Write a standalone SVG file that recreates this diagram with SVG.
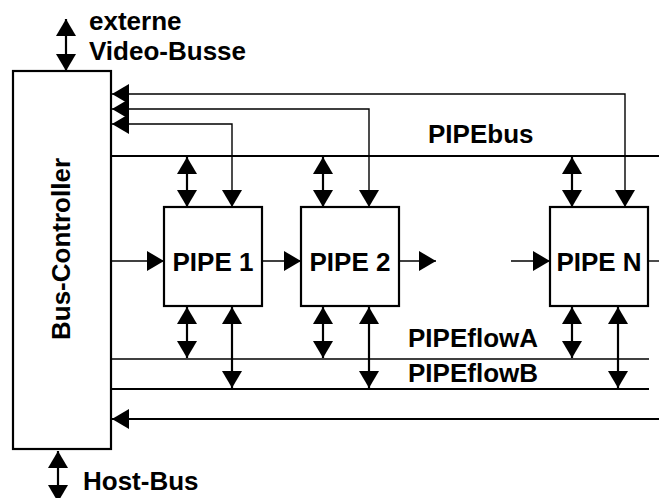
<svg xmlns="http://www.w3.org/2000/svg" width="659" height="498" viewBox="0 0 659 498">
<style>
text{font-family:"Liberation Sans",Arial,Helvetica,sans-serif;font-weight:bold;font-size:26px;fill:#000}
.box{fill:#fff;stroke:#000;stroke-width:2.2}
.thin{fill:none;stroke:#000;stroke-width:1.4}
.thick{fill:none;stroke:#000;stroke-width:2.2}
.a2{marker-start:url(#ah);marker-end:url(#ah)}
.a1{marker-end:url(#ah)}
</style>
<defs>
<marker id="ah" markerUnits="userSpaceOnUse" viewBox="0 0 17 20" refX="17" refY="10" markerWidth="17" markerHeight="20" orient="auto-start-reverse">
<path d="M0,0 L17,10 L0,20 Z" fill="#000"/>
</marker>
</defs>
<rect width="659" height="498" fill="#fff"/>
<g id="connectors">
<line class="thick a2" x1="66" y1="19" x2="66" y2="71"/>
<line class="thick a2" x1="58" y1="451" x2="58" y2="502"/>
<path class="thin a2" d="M112,94 H625 V207"/>
<path class="thin a2" d="M112,109 H369 V207"/>
<path class="thin a2" d="M112,124 H232 V207"/>
<line class="thick" x1="111" y1="156" x2="659" y2="156"/>
<line class="thin" x1="111" y1="359" x2="649" y2="359"/>
<line class="thick" x1="111" y1="389" x2="649" y2="389"/>
<path class="thick a1" d="M659,419 H112"/>
<line class="thick a2" x1="187" y1="157" x2="187" y2="207"/>
<line class="thick a2" x1="323" y1="157" x2="323" y2="207"/>
<line class="thick a2" x1="572" y1="157" x2="572" y2="207"/>
<line class="thick a2" x1="187" y1="307" x2="187" y2="358"/>
<line class="thick a2" x1="323" y1="307" x2="323" y2="358"/>
<line class="thick a2" x1="572" y1="307" x2="572" y2="358"/>
<line class="thick a2" x1="232" y1="307" x2="232" y2="388"/>
<line class="thick a2" x1="369" y1="307" x2="369" y2="388"/>
<line class="thick a2" x1="618" y1="307" x2="618" y2="388"/>
<path class="thin a1" d="M111,261 H164"/>
<path class="thin a1" d="M262,261 H301"/>
<path class="thin a1" d="M399,261 H436"/>
<path class="thin a1" d="M511,261 H550"/>
<path class="thin" d="M648,261 H659"/>
</g>
<g id="bus-controller">
<rect class="box" x="13" y="71" width="98" height="378"/>
<text transform="translate(70,249) rotate(-90)" text-anchor="middle">Bus-Controller</text>
</g>
<g id="pipe1">
<rect class="box" x="164" y="207" width="98" height="99"/>
<text x="213" y="271" text-anchor="middle">PIPE 1</text>
</g>
<g id="pipe2">
<rect class="box" x="301" y="207" width="98" height="99"/>
<text x="350" y="271" text-anchor="middle">PIPE 2</text>
</g>
<g id="pipeN">
<rect class="box" x="550" y="207" width="98" height="99"/>
<text x="599" y="271" text-anchor="middle">PIPE N</text>
</g>
<g id="labels">
<text x="89" y="30" font-size="25">externe</text>
<text x="89" y="60" font-size="25">Video-Busse</text>
<text x="428" y="143">PIPEbus</text>
<text x="408" y="347">PIPEflowA</text>
<text x="408" y="382">PIPEflowB</text>
<text x="83" y="490">Host-Bus</text>
</g>
</svg>
